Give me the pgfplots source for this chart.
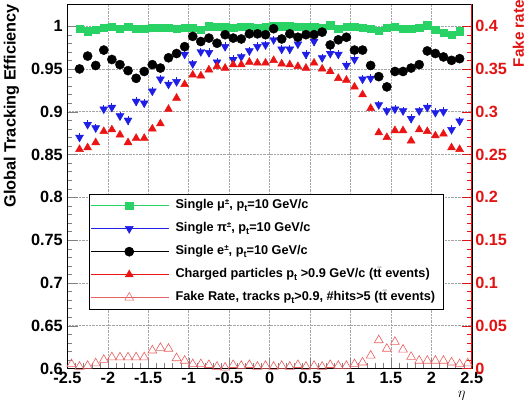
\documentclass[border=0pt]{standalone}
\usepackage{fontspec}
\setmainfont{Liberation Sans}
\usepackage{pgfplots}
\usepackage{pgfplotstable}
\pgfplotsset{compat=1.18}
\definecolor{mugreen}{RGB}{40,210,100}
\definecolor{piblue}{RGB}{30,30,230}
\definecolor{chred}{RGB}{235,20,20}
\definecolor{fakered}{RGB}{232,95,95}
\definecolor{axred}{RGB}{225,20,20}

\pgfplotstableread{
eta mu pi e ch
-2.35 0.997 0.870 0.950 0.856
-2.25 0.994 0.885 0.965 0.858
-2.15 0.996 0.881 0.954 0.864
-2.05 0.998 0.903 0.972 0.877
-1.95 0.999 0.905 0.961 0.879
-1.85 0.997 0.895 0.955 0.873
-1.75 0.999 0.890 0.948 0.864
-1.65 0.997 0.912 0.939 0.869
-1.55 0.997 0.910 0.947 0.869
-1.45 0.998 0.924 0.955 0.880
-1.35 0.998 0.938 0.951 0.886
-1.25 0.998 0.932 0.963 0.903
-1.15 0.997 0.935 0.968 0.916
-1.05 0.998 0.967 0.976 0.932
-0.95 0.998 0.956 0.988 0.943
-0.85 0.996 0.970 0.982 0.942
-0.75 1.000 0.969 0.986 0.949
-0.65 0.999 0.958 0.980 0.953
-0.55 0.999 0.976 0.990 0.951
-0.45 0.998 0.961 0.986 0.955
-0.35 0.999 0.964 0.985 0.955
-0.25 0.999 0.971 0.991 0.958
-0.15 0.998 0.976 0.991 0.957
-0.05 0.999 0.978 0.990 0.957
0.05 1.000 0.984 0.997 0.960
0.15 1.000 0.973 0.985 0.956
0.25 1.000 0.973 0.991 0.955
0.35 0.999 0.979 0.987 0.953
0.45 0.999 0.967 0.990 0.951
0.55 0.999 0.982 0.990 0.957
0.65 0.998 0.963 0.993 0.950
0.75 1.001 0.968 0.978 0.947
0.85 0.997 0.967 0.984 0.939
0.95 0.999 0.954 0.987 0.937
1.05 0.999 0.961 0.972 0.929
1.15 0.998 0.938 0.972 0.920
1.25 0.997 0.939 0.954 0.904
1.35 0.995 0.908 0.941 0.8755
1.45 0.998 0.901 0.929 0.870
1.55 0.999 0.903 0.947 0.878
1.65 0.997 0.901 0.947 0.878
1.75 0.997 0.892 0.951 0.866
1.85 0.998 0.901 0.955 0.879
1.95 1.001 0.905 0.971 0.877
2.05 0.996 0.899 0.968 0.872
2.15 0.992 0.900 0.964 0.874
2.25 0.990 0.879 0.960 0.858
2.35 0.994 0.889 0.962 0.856
}\efftable

\pgfplotstableread{
eta fake
-2.45 0.005
-2.35 0.002
-2.25 0.003
-2.15 0.006
-2.05 0.010
-1.95 0.013
-1.85 0.013
-1.75 0.013
-1.65 0.013
-1.55 0.013
-1.45 0.021
-1.35 0.024
-1.25 0.023
-1.15 0.012
-1.05 0.009
-0.95 0.005
-0.85 0.005
-0.75 0.004
-0.65 0.002
-0.55 0.001
-0.45 0.004
-0.35 0.003
-0.25 0.004
-0.15 0.002
-0.05 0.003
0.05 0.002
0.15 0.003
0.25 0.002
0.35 0.004
0.45 0.002
0.55 0.003
0.65 0.002
0.75 0.004
0.85 0.003
0.95 0.003
1.05 0.005
1.15 0.007
1.25 0.015
1.35 0.033
1.45 0.023
1.55 0.031
1.65 0.022
1.75 0.0135
1.85 0.009
1.95 0.009
2.05 0.009
2.15 0.009
2.25 0.007
2.35 0.005
2.45 0.006
}\faketable

\newcommand{\subx}[1]{\raisebox{-0.35ex}{\fontsize{9}{9}\selectfont #1}}
\newcommand{\supx}[1]{\raisebox{0.7ex}{\fontsize{8}{8}\selectfont #1}}
\newcommand{\tbar}{\ensuremath{\bar{\mbox{t}}}}

\begin{document}
\begin{tikzpicture}
\pgfplotsset{
  rootstyle/.style={
    width=396bp, height=357bp, scale only axis,
    xmin=-2.5, xmax=2.5,
    tick align=inside,
    major tick length=10bp, minor tick length=5bp,
    tick label style={font=\bfseries\fontsize{16}{18}\selectfont},
  }
}
\begin{axis}[rootstyle,
  ymin=0.6, ymax=1.026,
  xtick={-2.5,-2,-1.5,-1,-0.5,0,0.5,1,1.5,2,2.5},
  xticklabels={-2.5,-2,-1.5,-1,-0.5,0,0.5,1,1.5,2,2.5},
  ytick={0.6,0.65,0.7,0.75,0.8,0.85,0.9,0.95,1.0},
  yticklabels={0.6,0.65,0.7,0.75,0.8,0.85,0.9,0.95,1},
  yticklabel style={xshift=-1bp},
  minor x tick num=4, minor y tick num=4,
  xtick pos=bottom, ytick pos=left,
  grid=major,
  major grid style={densely dotted, gray!70, line width=0.5pt},
  ylabel={Global Tracking Efficiency},
  ylabel style={font=\bfseries\fontsize{16}{18}\selectfont, at={(rel axis cs:0,1)}, anchor=south east, yshift=47bp, inner sep=0pt},
  xlabel={$\eta$},
  xlabel style={font=\fontsize{15}{17}\selectfont, at={(rel axis cs:0.975,0)}, anchor=north, yshift=-22bp, inner sep=0pt},
  legend style={at={(rel axis cs:0.053,0.478)}, anchor=north west, draw=black, line width=0.6pt, fill=white,
    font=\bfseries\fontsize{12.5}{14}\selectfont, inner sep=2bp, row sep=4.5bp,
    nodes={text height=10bp, text depth=4bp, inner ysep=2bp, inner xsep=6bp}},
  legend cell align=left,
  legend image code/.code={\path (0bp,0bp) -- (76bp,0bp);
    \draw[#1,sharp plot,line width=0.5pt,mark repeat=2,mark phase=2] plot coordinates {(6bp,0bp) (37bp,0bp) (68bp,0bp)};},
]
\addplot[only marks, mark=square*, mark size=3.6bp, color=mugreen] table[x=eta,y=mu] {\efftable};
\addlegendentry{Single μ\supx{±}, p\subx{t}=10 GeV/c}
\addplot[only marks, mark=triangle*, mark options={rotate=180}, mark size=4.5bp, color=piblue,
  error bars/.cd, y dir=both, y fixed=0.005, error bar style={line width=0.8pt}, error mark=none] table[x=eta,y=pi] {\efftable};
\addlegendentry{Single π\supx{±}, p\subx{t}=10 GeV/c}
\addplot[only marks, mark=*, mark size=4.5bp, color=black,
  error bars/.cd, y dir=both, y fixed=0.004, error bar style={line width=0.8pt}, error mark=none] table[x=eta,y=e] {\efftable};
\addlegendentry{Single e\supx{±}, p\subx{t}=10 GeV/c}
\addplot[only marks, mark=triangle*, mark size=4.5bp, color=chred] table[x=eta,y=ch] {\efftable};
\addlegendentry{Charged particles p\subx{t} >0.9 GeV/c  (t\tbar{} events)}
\addlegendimage{only marks, mark=triangle, mark size=5bp, color=fakered, line width=0.6pt}
\addlegendentry{Fake Rate, tracks p\subx{t}>0.9, \#hits>5  (t\tbar{} events)}
\end{axis}
\begin{axis}[rootstyle,
  ymin=0, ymax=0.426,
  axis x line=none,
  axis y line*=right,
  ytick={0,0.05,0.1,0.15,0.2,0.25,0.3,0.35,0.4},
  yticklabels={0,0.05,0.1,0.15,0.2,0.25,0.3,0.35,0.4},
  minor y tick num=4,
  y axis line style={axred, line width=0.6pt},
  tick style={axred},
  yticklabel style={text=axred},
  ylabel={Fake rate},
  ylabel style={font=\bfseries\fontsize{15}{17}\selectfont, text=axred, at={(rel axis cs:1,1)}, anchor=north east, yshift=-40bp, xshift=4bp, inner sep=0pt},
]
\addplot[only marks, mark=triangle, mark size=5bp, color=fakered, line width=0.6pt] table[x=eta,y=fake] {\faketable};
\end{axis}
\path ([xshift=-66bp]current axis.south west);
\end{tikzpicture}
\end{document}
